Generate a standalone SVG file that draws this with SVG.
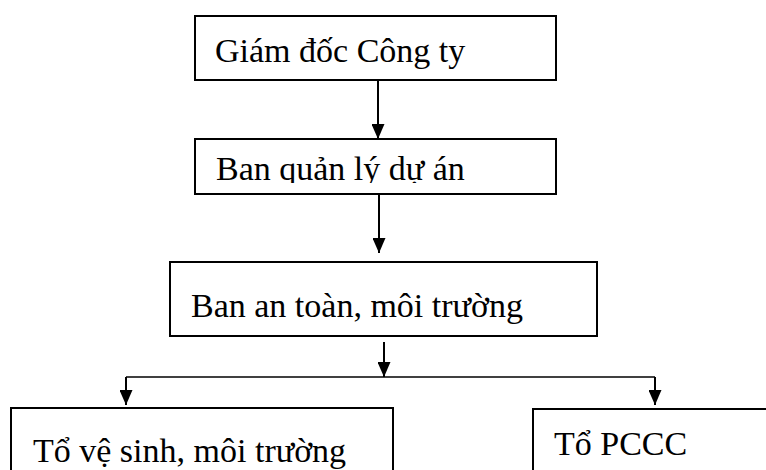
<svg xmlns="http://www.w3.org/2000/svg" width="766" height="470" viewBox="0 0 766 470">
<style>
.box{fill:#fff;stroke:#000;stroke-width:2}
.lbl{font-family:"Liberation Serif","Times New Roman",serif;font-size:34px;fill:#000}
.conn{stroke:#000;stroke-width:2;fill:none}
.thin{stroke:#000;stroke-width:1.3;fill:none}
</style>
<defs>
<marker id="ah" markerWidth="15" markerHeight="13" refX="15" refY="6.5" orient="auto" markerUnits="userSpaceOnUse" viewBox="0 0 15 13">
<path d="M0,0 L15,6.5 L0,13 Z" fill="#000"/>
</marker>
<clipPath id="c2"><rect x="196" y="140" width="359" height="43"/></clipPath>
</defs>
<rect width="766" height="470" fill="#fff"/>
<g id="n1"><rect class="box" x="195" y="16" width="361" height="64"/><text class="lbl" x="215" y="62">Giám đốc Công ty</text></g>
<g id="n2"><rect class="box" x="195" y="139" width="361" height="55"/><text class="lbl" x="216" y="180" clip-path="url(#c2)">Ban quản lý dự án</text></g>
<g id="n3"><rect class="box" x="170" y="262" width="427" height="74"/><text class="lbl" x="191" y="317">Ban an toàn, môi trường</text></g>
<g id="n4"><rect class="box" x="11" y="408" width="382" height="80"/><text class="lbl" x="33" y="462">Tổ vệ sinh, môi trường</text></g>
<g id="n5"><rect class="box" x="533" y="409" width="260" height="80"/><text class="lbl" x="554" y="455">Tổ PCCC</text></g>
<g id="connectors">
<line class="conn" x1="378" y1="81" x2="378" y2="139" marker-end="url(#ah)"/>
<line class="conn" x1="379" y1="194" x2="379" y2="253" marker-end="url(#ah)"/>
<line class="conn" x1="384" y1="342" x2="384" y2="377" marker-end="url(#ah)"/>
<line class="thin" x1="126" y1="377" x2="655" y2="377"/>
<line class="conn" x1="126" y1="377" x2="126" y2="405" marker-end="url(#ah)"/>
<line class="conn" x1="655" y1="377" x2="655" y2="405" marker-end="url(#ah)"/>
</g>
</svg>
